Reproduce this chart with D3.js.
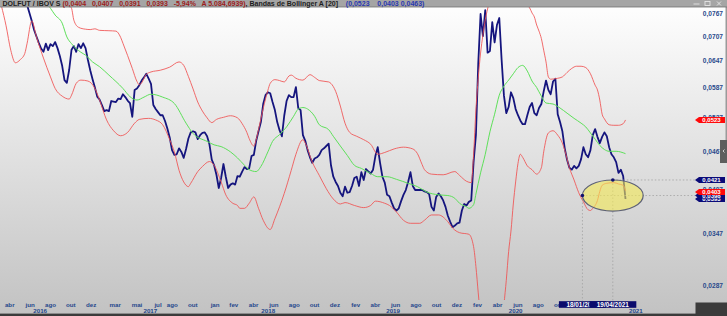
<!DOCTYPE html>
<html>
<head>
<meta charset="utf-8">
<script src="https://cdn.jsdelivr.net/npm/d3@7"></script>
<style>
  html, body { margin: 0; padding: 0; overflow: hidden; background: #fff; }
  svg { display: block; font-family: "Liberation Sans", Arial, sans-serif; }
</style>
</head>
<body>
<script>
// Weekly bars (DOLFUT / IBOV, semanal), week index counted from the first bar
const firstBar = new Date(2016, 2, 7);
const lastBar = new Date(2021, 3, 19);

const price = [
  [0,.0880],[4,.0850],[8,.0820],[10,.0800],[11,.0792],[12,.0770],[13,.0748],[14,.0724],[15,.0707],[16,.0691],
  [17,.0677],[18,.0669],[19,.0689],[20,.0673],[21,.0688],[22,.0683],[23,.0693],[24,.0678],[25,.0659],[26,.0636],
  [27,.0604],[28,.0598],[29,.0627],[30,.0674],[31,.0683],[32,.0669],[33,.0688],[34,.0678],[35,.0690],[36,.0678],
  [37,.0650],[38,.0626],[39,.0606],[40,.0588],[41,.0569],[42,.0563],[43,.0552],[44,.0540],[45,.0542],[46,.0540],
  [47,.0560],[48,.0559],[49,.0558],[50,.0565],[51,.0564],[52,.0574],[53,.0568],[54,.0561],[55,.0556],[56,.0529],
  [57,.0583],[58,.0586],[59,.0593],[60,.0603],[61,.0610],[62,.0618],[63,.0607],[64,.0596],[65,.0552],[66,.0544],
  [67,.0538],[68,.0532],[69,.0532],[70,.0521],[71,.0507],[72,.0491],[73,.0469],[74,.0461],[75,.0462],[76,.0472],
  [77,.0466],[78,.0456],[79,.0471],[80,.0489],[81,.0500],[82,.0502],[83,.0500],[84,.0488],[85,.0495],[86,.0499],
  [87,.0500],[88,.0493],[89,.0479],[90,.0453],[91,.0444],[92,.0429],[93,.0409],[94,.0424],[95,.0446],[96,.0426],
  [97,.0409],[98,.0414],[99,.0416],[100,.0414],[101,.0427],[102,.0426],[103,.0434],[104,.0441],[105,.0438],[106,.0439],
  [107,.0459],[108,.0461],[109,.0485],[110,.0502],[111,.0519],[112,.0554],[113,.0572],[114,.0578],[115,.0576],[116,.0558],
  [117,.0542],[118,.0519],[119,.0504],[120,.0493],[121,.0531],[122,.0560],[123,.0572],[124,.0568],[125,.0568],[126,.0589],
  [127,.0546],[128,.0542],[129,.0495],[130,.0485],[131,.0469],[132,.0457],[133,.0448],[134,.0455],[135,.0457],[136,.0461],
  [137,.0469],[138,.0472],[139,.0476],[140,.0480],[141,.0444],[142,.0426],[143,.0418],[144,.0412],[145,.0402],[146,.0397],
  [147,.0411],[148,.0402],[149,.0403],[150,.0412],[151,.0424],[152,.0426],[153,.0412],[154,.0433],[155,.0421],[156,.0438],
  [157,.0434],[158,.0431],[159,.0437],[160,.0459],[161,.0474],[162,.0448],[163,.0426],[164,.0417],[165,.0399],[166,.0397],
  [167,.0388],[168,.0380],[169,.0377],[170,.0380],[171,.0390],[172,.0399],[173,.0406],[174,.0418],[175,.0433],[176,.0412],
  [177,.0406],[178,.0406],[179,.0406],[180,.0406],[181,.0404],[182,.0403],[183,.0400],[184,.0382],[185,.0377],[186,.0396],
  [187,.0401],[188,.0397],[189,.0391],[190,.0382],[191,.0370],[192,.0362],[193,.0355],[194,.0357],[195,.0360],[196,.0361],
  [197,.0377],[198,.0386],[199,.0384],[200,.0389],[201,.0391],[202,.0449],[203,.0495],[204,.0640],[205,.0767],[206,.0708],
  [207,.0778],[208,.0667],[209,.0671],[210,.0745],[211,.0692],[212,.0737],[213,.0756],[214,.0650],[215,.0571],[216,.0536],
  [217,.0548],[218,.0578],[219,.0566],[220,.0544],[221,.0532],[222,.0522],[223,.0515],[224,.0515],[225,.0532],[226,.0548],
  [227,.0556],[228,.0536],[229,.0532],[230,.0546],[231,.0554],[232,.0580],[233,.0603],[234,.0583],[235,.0574],[236,.0601],
  [237,.0607],[238,.0534],[239,.0519],[240,.0502],[241,.0472],[242,.0453],[243,.0440],[244,.0437],[245,.0443],[246,.0439],
  [247,.0443],[248,.0454],[249,.0474],[250,.0462],[251,.0457],[252,.0469],[253,.0495],[254,.0506],[255,.0492],[256,.0481],
  [257,.0492],[258,.0500],[259,.0493],[260,.0474],[261,.0462],[262,.0457],[263,.0449],[264,.0432],[265,.0437],[266,.0427],
  [267,.0393]
];

// Bandas de Bollinger [20]
const upperBand = [
  [0,.0900],[15,.0870],[25,.0820],[30,.0783],[31,.0750],[33,.0731],[36,.0726],[38,.0725],[40,.0727],[42,.0723],
  [46,.0722],[49,.0721],[51,.0705],[52,.0690],[54,.0660],[56,.0630],[58,.0601],[59,.0594],[60,.0598],[62,.0617],
  [64,.0622],[68,.0626],[72,.0633],[76,.0645],[78,.0637],[80,.0612],[82,.0585],[84,.0558],[86,.0540],[88,.0527],
  [90,.0518],[92,.0524],[95,.0528],[98,.0531],[101,.0527],[103,.0516],[105,.0500],[106,.0489],[108,.0476],[109,.0487],
  [110,.0505],[112,.0545],[114,.0582],[115,.0597],[117,.0605],[119,.0603],[121,.0600],[123,.0613],[124,.0615],[126,.0608],
  [129,.0604],[132,.0616],[134,.0610],[136,.0603],[140,.0600],[142,.0590],[143,.0580],[145,.0550],[147,.0517],[149,.0500],
  [152,.0493],[155,.0487],[158,.0479],[161,.0462],[164,.0465],[168,.0471],[172,.0474],[176,.0471],[178,.0463],[180,.0445],
  [181,.0437],[184,.0430],[189,.0429],[194,.0434],[196,.0428],[199,.0419],[201,.0417],[202,.0461],[203,.0542],[204,.0608],
  [205,.0666],[206,.0711],[207,.0751],[208,.0781],[209,.0807],[211,.0850],[215,.0880],[220,.0860],[222,.0840],[224,.0809],
  [225,.0792],[226,.0784],[227,.0770],[228,.0759],[229,.0737],[230,.0721],[231,.0702],[232,.0673],[233,.0645],[234,.0611],
  [235,.0606],[238,.0608],[240,.0611],[242,.0621],[244,.0630],[246,.0635],[248,.0635],[250,.0632],[252,.0618],[254,.0593],
  [255,.0583],[256,.0562],[257,.0534],[258,.0525],[260,.0514],[262,.0513],[264,.0513],[266,.0516],[267,.0523]
];

const lowerBand = [
  [0,.0790],[2,.0735],[4,.0673],[6,.0643],[8,.0650],[10,.0665],[11,.0690],[13,.0748],[15,.0706],[18,.0654],
  [21,.0611],[23,.0586],[26,.0570],[29,.0564],[30,.0572],[32,.0597],[34,.0604],[37,.0602],[40,.0586],[42,.0562],
  [45,.0523],[48,.0503],[51,.0494],[54,.0500],[57,.0517],[59,.0524],[63,.0526],[66,.0523],[69,.0514],[72,.0487],
  [74,.0466],[76,.0436],[78,.0418],[80,.0411],[81,.0416],[84,.0434],[86,.0442],[89,.0450],[91,.0444],[94,.0418],
  [96,.0399],[99,.0387],[101,.0384],[102,.0380],[104,.0380],[106,.0387],[108,.0396],[110,.0380],[112,.0364],[115,.0352],
  [117,.0366],[121,.0401],[124,.0436],[126,.0462],[129,.0487],[130,.0481],[133,.0449],[136,.0428],[139,.0408],[142,.0393],
  [145,.0386],[147,.0388],[151,.0384],[155,.0381],[158,.0384],[160,.0390],[164,.0387],[166,.0384],[169,.0375],[172,.0364],
  [175,.0360],[179,.0360],[181,.0364],[184,.0371],[187,.0371],[191,.0362],[193,.0354],[196,.0348],[200,.0346],[202,.0331],
  [203,.0308],[204,.0280],[205,.0255],[207,.0215],[210,.0190],[213,.0215],[215,.0268],[216,.0293],[217,.0325],[218,.0350],
  [219,.0386],[220,.0418],[221,.0447],[222,.0462],[223,.0457],[225,.0443],[227,.0437],[229,.0430],[231,.0440],[232,.0466],
  [234,.0499],[236,.0503],[238,.0495],[240,.0481],[241,.0469],[243,.0440],[245,.0421],[247,.0402],[249,.0389],[251,.0378],
  [252,.0377],[253,.0380],[255,.0391],[256,.0404],[257,.0413],[259,.0416],[262,.0417],[264,.0415],[266,.0413],[267,.0405]
];

const middleBand = [
  [0,.0950],[10,.0880],[17,.0820],[21,.0783],[23,.0764],[26,.0742],[28,.0706],[30,.0689],[34,.0668],[36,.0661],
  [39,.0645],[42,.0634],[46,.0615],[52,.0586],[55,.0569],[58,.0562],[61,.0568],[64,.0574],[69,.0568],[74,.0555],
  [79,.0517],[82,.0498],[88,.0484],[91,.0478],[94,.0475],[98,.0466],[101,.0456],[104,.0444],[106,.0437],[109,.0434],
  [111,.0442],[114,.0466],[116,.0484],[119,.0496],[122,.0510],[125,.0530],[127,.0544],[129,.0547],[131,.0544],[134,.0530],
  [136,.0514],[140,.0505],[142,.0493],[145,.0476],[148,.0460],[151,.0444],[154,.0439],[158,.0431],[161,.0426],[165,.0426],
  [169,.0422],[174,.0416],[178,.0411],[182,.0403],[187,.0399],[191,.0398],[194,.0394],[196,.0387],[199,.0382],[200,.0380],
  [202,.0385],[203,.0400],[205,.0432],[207,.0462],[209,.0501],[211,.0534],[213,.0572],[215,.0591],[217,.0604],[219,.0618],
  [221,.0632],[223,.0637],[225,.0624],[227,.0602],[229,.0588],[231,.0570],[233,.0556],[236,.0554],[239,.0546],[242,.0536],
  [245,.0526],[248,.0517],[250,.0510],[252,.0499],[254,.0488],[256,.0477],[258,.0470],[260,.0467],[263,.0467],[267,.0463]
];

const yTicks = [0.0287, 0.0347, 0.0407, 0.0467, 0.0527, 0.0587, 0.0647, 0.0707, 0.0767];

const monthTicks = [
  ["2016-04-01","abr"],["2016-06-01","jun"],["2016-08-01","ago"],["2016-10-01","out"],["2016-12-01","dez"],
  ["2017-02-11","mar"],["2017-04-17","mai"],["2017-06-19","jul"],["2017-08-01","ago"],["2017-10-01","out"],
  ["2017-12-07","jan"],["2018-02-01","fev"],["2018-04-01","abr"],["2018-06-01","jun"],["2018-08-01","ago"],
  ["2018-10-01","out"],["2018-12-01","dez"],["2019-02-01","fev"],["2019-04-01","abr"],["2019-06-01","jun"],
  ["2019-08-01","ago"],["2019-10-01","out"],["2019-12-01","dez"],["2020-02-01","fev"],["2020-04-01","abr"],
  ["2020-06-01","jun"],["2020-08-01","ago"],["2020-10-01","out"]
];
const yearTicks = [
  ["2016-07-01","2016"],["2017-05-27","2017"],["2018-05-15","2018"],
  ["2019-05-24","2019"],["2020-05-25","2020"],["2021-05-20","2021"]
];

// last-value tags on the price axis (drawn in this order)
const tags = [
  { value: 0.0523, color: "#ff0a0a" },
  { value: 0.0421, color: "#0a0a78" },
  { value: 0.0393, color: "#0a0a78" },
  { value: 0.0398, color: "#0a0a78" },
  { value: 0.0403, color: "#ff0a0a" }
];

// ellipse drawing and its two anchor points
const anchors = [
  { date: "2020-12-11", value: 0.0398, label: "18/01/2021" },
  { date: "2021-03-12", value: 0.0421, label: "19/04/2021" }
];

const header = [
  { text: "DOLFUT / IBOV S ", color: "#1e1e1e" },
  { text: "(0,0404   0,0407   0,0391   0,0393   -5,94%   A 5.084,6939)", color: "#9c1c1c" },
  { text: ", Bandas de Bollinger A [20]    ", color: "#1e1e1e" },
  { text: "(0,0523    0,0403 0,0463)", color: "#2a38b0" }
];

// ---- layout
const width = 727, height = 316;
const plotRight = 695, plotTop = 7, plotBottom = 300;

const parse = d3.timeParse("%Y-%m-%d");
const weekDate = w => d3.timeDay.offset(firstBar, 7 * w);
const fmt = d3.formatLocale({ decimal: ",", thousands: ".", grouping: [3], currency: ["", ""] }).format(".4f");

const x = d3.scaleTime().domain([firstBar, lastBar]).range([1.4, 625.5]);
const y = d3.scaleLog().domain([0.0287, 0.0767]).range([286, 14]);

const svg = d3.select("body").append("svg")
  .attr("width", width)
  .attr("height", height);

const defs = svg.append("defs");
const grad = defs.append("linearGradient")
  .attr("id", "bg").attr("x1", 0).attr("y1", 0).attr("x2", 0).attr("y2", 1);
grad.append("stop").attr("offset", "0%").attr("stop-color", "#ffffff");
grad.append("stop").attr("offset", "100%").attr("stop-color", "#c2c2c2");

defs.append("clipPath").attr("id", "plot")
  .append("rect").attr("x", 0).attr("y", plotTop).attr("width", plotRight).attr("height", plotBottom - plotTop);

svg.append("rect").attr("width", width).attr("height", height).attr("fill", "url(#bg)");

// ---- series
const line = d3.line()
  .x(d => x(weekDate(d[0])))
  .y(d => y(d[1]));
const smooth = d3.line()
  .x(d => x(weekDate(d[0])))
  .y(d => y(d[1]))
  .curve(d3.curveMonotoneX);

const plot = svg.append("g").attr("clip-path", "url(#plot)");

plot.append("path").datum(price)
  .attr("d", line)
  .attr("fill", "none")
  .attr("stroke", "#15157e")
  .attr("stroke-width", 1.8)
  .attr("stroke-linejoin", "round");

plot.append("path").datum(middleBand)
  .attr("d", smooth)
  .attr("fill", "none")
  .attr("stroke", "#5ee05a")
  .attr("stroke-width", 1);

plot.selectAll(".band")
  .data([upperBand, lowerBand])
  .enter().append("path")
  .attr("class", "band")
  .attr("d", smooth)
  .attr("fill", "none")
  .attr("stroke", "#f05252")
  .attr("stroke-opacity", 0.85)
  .attr("stroke-width", 1);

// ---- ellipse annotation
const a0 = anchors[0], a1 = anchors[1];
const ax0 = x(parse(a0.date)), ax1 = x(parse(a1.date));
const ay0 = y(a0.value), ay1 = y(a1.value);

const guides = svg.append("g")
  .attr("stroke", "#a2a2a2")
  .attr("stroke-width", 0.8)
  .attr("stroke-dasharray", "1.5,2");
anchors.forEach(a => {
  const ax = x(parse(a.date)), ay = y(a.value);
  guides.append("line").attr("x1", ax).attr("x2", plotRight).attr("y1", ay).attr("y2", ay);
  guides.append("line").attr("x1", ax).attr("x2", ax).attr("y1", ay).attr("y2", plotBottom + 1);
});

svg.append("ellipse")
  .attr("cx", ax1)
  .attr("cy", ay0)
  .attr("rx", ax1 - ax0)
  .attr("ry", ay0 - ay1)
  .attr("fill", "#f3ea55")
  .attr("fill-opacity", 0.6)
  .attr("stroke", "#5d6176")
  .attr("stroke-width", 1.2);

svg.selectAll(".anchor")
  .data(anchors)
  .enter().append("circle")
  .attr("class", "anchor")
  .attr("cx", d => x(parse(d.date)))
  .attr("cy", d => y(d.value))
  .attr("r", 1.8)
  .attr("fill", "#10106e");

// ---- price axis (right)
svg.append("g").selectAll("text")
  .data(yTicks)
  .enter().append("text")
  .attr("x", 723)
  .attr("y", d => y(d) + 2.4)
  .attr("text-anchor", "end")
  .attr("font-size", 6.6)
  .attr("font-weight", "bold")
  .attr("fill", "#2a4a8c")
  .text(d => fmt(d));

// small scroll tab on the right edge
svg.append("rect").attr("x", 720).attr("y", 140).attr("width", 7).attr("height", 23).attr("fill", "#5e5e5e");
svg.append("path").attr("d", "M724.5,149.5 l-1.5,1.5 l1.5,1.5").attr("fill", "none").attr("stroke", "#e8e8e8").attr("stroke-width", 0.8);
svg.append("rect").attr("x", 725.5).attr("y", 0).attr("width", 1.5).attr("height", 140).attr("fill", "#9a9a9a");

const tagG = svg.append("g").selectAll("g")
  .data(tags)
  .enter().append("g")
  .attr("transform", d => `translate(0,${y(d.value)})`);
tagG.append("path")
  .attr("d", "M695,0 L699,-3 L725,-3 L725,3 L699,3 Z")
  .attr("fill", d => d.color);
tagG.append("text")
  .attr("x", 711.5)
  .attr("y", 2.1)
  .attr("text-anchor", "middle")
  .attr("font-size", 6)
  .attr("font-weight", "bold")
  .attr("fill", "#ffffff")
  .text(d => fmt(d.value));

// ---- time axis (bottom)
const axisColor = "#25478c";
svg.append("g").selectAll("text")
  .data(monthTicks)
  .enter().append("text")
  .attr("x", d => x(parse(d[0])))
  .attr("y", 307)
  .attr("text-anchor", "middle")
  .attr("font-size", 6.2)
  .attr("font-weight", "bold")
  .attr("fill", axisColor)
  .text(d => d[1]);

svg.append("g").selectAll("text")
  .data(yearTicks)
  .enter().append("text")
  .attr("x", d => x(parse(d[0])))
  .attr("y", 313)
  .attr("text-anchor", "middle")
  .attr("font-size", 6.2)
  .attr("font-weight", "bold")
  .attr("fill", axisColor)
  .text(d => d[1]);

// crosshair date labels for the anchors
const dateBox = svg.append("g").selectAll("g")
  .data(anchors)
  .enter().append("g")
  .attr("transform", d => `translate(${x(parse(d.date))},304.5)`);
dateBox.append("rect")
  .attr("x", -23.5).attr("y", -3.3).attr("width", 47).attr("height", 6.6)
  .attr("fill", "#0b0b6c");
dateBox.append("text")
  .attr("y", 2.2)
  .attr("text-anchor", "middle")
  .attr("font-size", 6.4)
  .attr("font-weight", "bold")
  .attr("fill", "#ffffff")
  .text(d => d.label);

// bottom frame
svg.append("rect").attr("x", 0).attr("y", 313.6).attr("width", width).attr("height", 2.4).attr("fill", "#3b3b3b");
svg.append("rect").attr("x", 695.5).attr("y", 302.5).attr("width", width - 695.5).attr("height", 13.5).attr("fill", "#3b3b3b");

// ---- header bar
svg.append("rect").attr("x", 0).attr("y", 0).attr("width", width).attr("height", 7).attr("fill", "#a5a5a5");
svg.append("rect").attr("x", 0).attr("y", 6.6).attr("width", width).attr("height", 0.8).attr("fill", "#707070");

const title = svg.append("text")
  .attr("x", 2.5)
  .attr("y", 5.7)
  .attr("font-size", 7)
  .attr("font-weight", "bold")
  .style("white-space", "pre");
title.selectAll("tspan")
  .data(header)
  .enter().append("tspan")
  .attr("fill", d => d.color)
  .text(d => d.text);

// window buttons
const btn = svg.append("g").attr("stroke", "#e4e4e4").attr("fill", "none").attr("stroke-width", 0.9);
btn.append("line").attr("x1", 693.5).attr("x2", 699.5).attr("y1", 4).attr("y2", 4);
btn.append("rect").attr("x", 705).attr("y", 1.5).attr("width", 5).attr("height", 4);
btn.append("path").attr("d", "M717,1.5 L721,5.5 M721,1.5 L717,5.5");
</script>
</body>
</html>
